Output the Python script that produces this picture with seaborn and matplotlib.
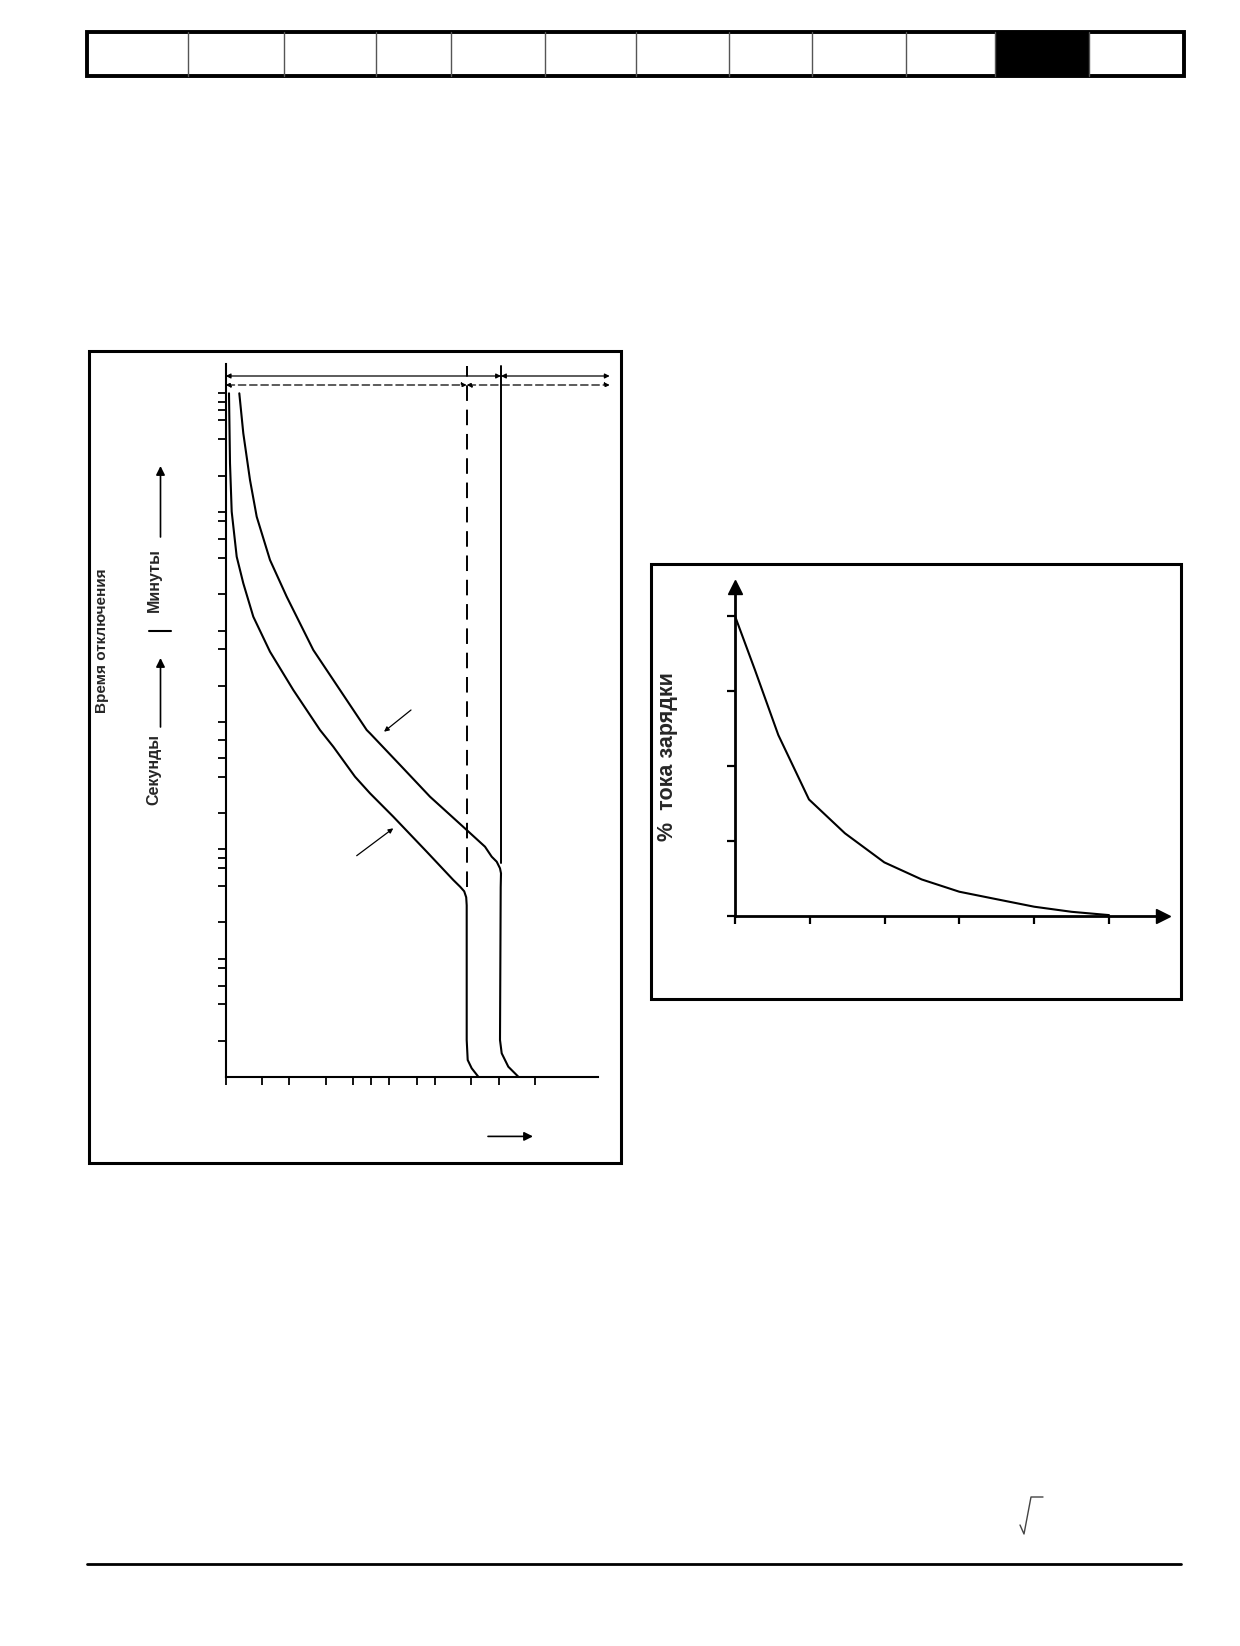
import numpy as np
import pandas as pd
import seaborn as sns
import matplotlib.pyplot as plt
from matplotlib.patches import Rectangle

sns.set_style("white")
plt.rcParams['font.family'] = ['Liberation Sans', 'DejaVu Sans']

W, H = 1240, 1646

# header tab strip (cell edges along the page, last-but-one cell is the active one)
tab_edges = [87, 187.5, 283.6, 376.4, 450.9, 544.5, 635.9, 728.6, 812, 906.4, 994.8, 1088.8, 1184]
active_tab = 10

# left chart: trip curves (x = current, y = trip time position)
inner_x = [3.3, 4.3, 6, 11, 17.6, 27.6, 44.3, 67.6, 94.3, 107.6, 129.3, 144.3, 167.6,
           201, 227.6, 234.5, 238.5, 240.5, 241, 241, 242, 246, 252.6]
inner_y = [684, 614, 565.6, 520.6, 494, 460.6, 425.6, 387.3, 347.3, 330.6, 300.6, 284, 260.6,
           225.6, 197.3, 190.5, 186, 180, 172, 37.3, 17.3, 9, 0.6]
outer_x = [13.6, 17.6, 24.3, 31, 44.3, 61, 87.6, 114.3, 141, 144.3, 176, 204.3, 241,
           259.3, 266, 271, 274.3, 275.3, 275, 274.3, 276, 282.6, 292.6]
outer_y = [684, 644, 597.3, 560.6, 517.3, 480.6, 427.3, 387.3, 347.3, 344, 310.6, 280.6, 247.3,
           230.6, 220.6, 215.6, 209, 204, 190, 37.3, 24, 10.6, 0.6]
trip_xticks = [0, 36, 63.3, 100, 127.3, 145.3, 163.3, 191, 209.3, 245.3, 273.3, 309.3]
trip_yticks = [36.6, 73, 91.3, 109, 118.3, 155, 191.6, 209.6, 219.6, 228, 264, 300.6, 319,
               337.3, 355, 391.6, 428.3, 446.6, 483.3, 519.6, 538, 556.6, 565, 601.6, 638,
               657.3, 667.3, 675.6, 684]
limit_dashed = 241      # dashed limit line
limit_solid = 275.3     # solid limit line
trip_xmax, trip_ymax = 372.6, 713

# right chart: charging current decay
charge_t = [0, 0.267, 0.579, 0.989, 1.47, 1.996, 2.496, 2.999, 3.498, 4.0, 4.5, 5.0]
charge_pct = [100, 82.0, 60.3, 38.8, 27.5, 17.8, 12.1, 8.0, 5.5, 3.0, 1.3, 0.2]
charge_xticks = [0, 1, 2, 3, 4, 5]
charge_yticks = [0, 25, 50, 75, 100]


def rect(x0, y0, x1, y1):
    return [x0 / W, 1 - y1 / H, (x1 - x0) / W, (y1 - y0) / H]


fig = plt.figure(figsize=(12.4, 16.46), dpi=100)
fig.patch.set_facecolor('white')

# page layer in pixel coordinates
page = fig.add_axes([0, 0, 1, 1])
page.set_xlim(0, W)
page.set_ylim(H, 0)
page.axis('off')

# header strip
page.add_patch(Rectangle((tab_edges[active_tab], 31.5), tab_edges[active_tab + 1] - tab_edges[active_tab], 44,
                         facecolor='black', edgecolor='none'))
for e in tab_edges[1:-1]:
    page.plot([e, e], [31.5, 75.5], color='#555555', lw=1)
page.add_patch(Rectangle((tab_edges[0], 31.5), tab_edges[-1] - tab_edges[0], 44,
                         facecolor='none', edgecolor='black', lw=2.8))

# figure frames
page.add_patch(Rectangle((89.2, 350.5), 532, 812, facecolor='none', edgecolor='black', lw=2.2))
page.add_patch(Rectangle((650.6, 563.5), 530, 435.5, facecolor='none', edgecolor='black', lw=2.2))

# left figure labels
page.text(101.8, 641, 'Время отключения', rotation=90, ha='center', va='center',
          fontsize=11, fontweight='bold')
page.text(154, 580, 'Минуты', rotation=90, ha='center', va='center', fontsize=11.5, fontweight='bold')
page.text(153.5, 769, 'Секунды', rotation=90, ha='center', va='center', fontsize=11.5, fontweight='bold')
page.plot([149, 170.7], [630.7, 630.7], color='black', lw=1.5)
for y0, y1 in [(537, 466), (727, 658)]:
    page.annotate('', xy=(160.5, y1), xytext=(160.5, y0),
                  arrowprops=dict(arrowstyle='-|>', color='black', lw=1.2, mutation_scale=13,
                                  shrinkA=0, shrinkB=0))
page.annotate('', xy=(533, 1136.4), xytext=(488, 1136.4),
              arrowprops=dict(arrowstyle='-|>', color='black', lw=1.2, mutation_scale=13,
                              shrinkA=0, shrinkB=0))

# right figure label
page.text(668, 757, '%  тока зарядки', rotation=90, ha='center', va='center',
          fontsize=15.5, fontweight='bold')

# footer
page.plot([87, 1180.5], [1563.5, 1563.5], color='black', lw=2)
page.plot([1020, 1024, 1031, 1043], [1525, 1534, 1497, 1497], color='#444444', lw=1)

# ---- left chart: trip characteristics ----
ax = fig.add_axes(rect(225.7, 364.3, 598.3, 1077.3))
ax.patch.set_alpha(0)
curves = pd.concat([
    pd.DataFrame({'x': inner_x, 'y': inner_y, 'curve': 'inner'}),
    pd.DataFrame({'x': outer_x, 'y': outer_y, 'curve': 'outer'}),
])
sns.lineplot(data=curves, x='x', y='y', units='curve', estimator=None, sort=False,
             color='black', lw=1.5, ax=ax)
ax.plot([limit_dashed, limit_dashed], [190.6, 711], color='black', lw=1.4, dashes=(8, 4.5))
ax.plot([limit_solid, limit_solid], [214, 711], color='black', lw=1.4)

ar = dict(color='black', lw=0.9, mutation_scale=7, shrinkA=0, shrinkB=0)
for x0, x1 in [(0, limit_solid), (limit_solid, 384)]:
    ax.annotate('', xy=(x1, 701.3), xytext=(x0, 701.3), annotation_clip=False,
                arrowprops=dict(arrowstyle='<|-|>', **ar))
for x0, x1 in [(0, limit_dashed), (limit_dashed, 384)]:
    ax.annotate('', xy=(x1, 692.3), xytext=(x0, 692.3), annotation_clip=False,
                arrowprops=dict(arrowstyle='<|-|>', ls=(0, (6, 3)), **ar))
# pointer arrows to the curves
ax.annotate('', xy=(158.3, 345.6), xytext=(185.3, 367.3),
            arrowprops=dict(arrowstyle='-|>', **ar))
ax.annotate('', xy=(167.6, 249), xytext=(131, 221.6),
            arrowprops=dict(arrowstyle='-|>', **ar))

ax.set_xlim(0, trip_xmax)
ax.set_ylim(0, trip_ymax)
ax.set_xticks(trip_xticks)
ax.set_yticks(trip_yticks)
ax.set_xticklabels([])
ax.set_yticklabels([])
ax.tick_params(direction='out', length=5.8, width=1.3, color='black', bottom=True, left=True)
for s in ['top', 'right']:
    ax.spines[s].set_visible(False)
for s in ['left', 'bottom']:
    ax.spines[s].set_color('black')
    ax.spines[s].set_linewidth(1.5)
ax.set_xlabel('')
ax.set_ylabel('')

# ---- right chart: charging current ----
bx = fig.add_axes(rect(735, 587, 1163, 915.7))
bx.patch.set_alpha(0)
sns.lineplot(x=charge_t, y=charge_pct, color='black', lw=1.5, ax=bx)
bx.set_xlim(0, 5.722)
bx.set_ylim(0, 109.7)
bx.set_xticks(charge_xticks)
bx.set_yticks(charge_yticks)
bx.set_xticklabels([])
bx.set_yticklabels([])
bx.tick_params(direction='out', length=5.8, width=1.6, color='black', bottom=True, left=True)
for s in ['top', 'right']:
    bx.spines[s].set_visible(False)
for s in ['left', 'bottom']:
    bx.spines[s].set_color('black')
    bx.spines[s].set_linewidth(2)
bx.plot(0, 1, marker='^', ms=10, color='black', transform=bx.get_xaxis_transform(), clip_on=False)
bx.plot(1, 0, marker='>', ms=10, color='black', transform=bx.get_yaxis_transform(), clip_on=False)

fig.savefig('out.png', dpi=100)
